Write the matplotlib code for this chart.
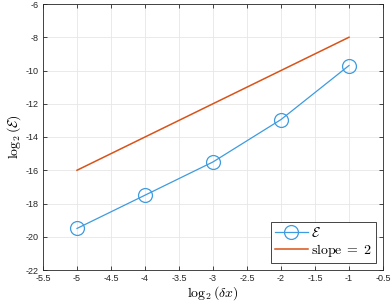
import matplotlib
matplotlib.use("Agg")
import matplotlib.pyplot as plt
import numpy as np

plt.rcParams['mathtext.fontset'] = 'cm'
plt.rcParams['font.family'] = ['Liberation Sans', 'DejaVu Sans']

log_dx = [-5, -4, -3, -2, -1]
log_err = [-19.5, -17.5, -15.5, -12.95, -9.7]
slope_x = [-5, -1]
slope_y = [-16, -8]
xticks = [-5.5, -5, -4.5, -4, -3.5, -3, -2.5, -2, -1.5, -1, -0.5]
yticks = [-22, -20, -18, -16, -14, -12, -10, -8, -6]

fig = plt.figure(figsize=(3.92, 3.08), dpi=100)
ax = fig.add_axes([43/392, 38/308, 340/392, 266/308])

ax.plot(log_dx, log_err, '-o', color='#3d9be0', lw=0.9, markersize=10,
        markerfacecolor='none', markeredgewidth=0.9, label=r'$\mathcal{E}$')
ax.plot(slope_x, slope_y, '-', color='#D95319', lw=1.1, label=r'$\mathrm{slope}\;=\;2$')

ax.set_xlim(-5.5, -0.5)
ax.set_ylim(-22, -6)
ax.set_xticks(xticks)
ax.set_yticks(yticks)
ax.set_xticklabels([f'{v:g}' for v in xticks])
ax.set_yticklabels([f'{v:g}' for v in yticks])
ax.tick_params(direction='in', top=True, right=True, labelsize=6.5, length=3,
               width=0.6, color='#262626', labelcolor='#262626', pad=3)
for s in ax.spines.values():
    s.set_linewidth(0.6)
    s.set_color('#262626')
ax.grid(True, color='#e6e6e6', lw=0.6)
ax.set_axisbelow(True)

ax.set_xlabel(r'$\log_2(\delta x)$', fontsize=10, labelpad=1)
ax.set_ylabel(r'$\log_2(\mathcal{E})$', fontsize=10, labelpad=2)

leg = ax.legend(loc='lower right', fontsize=10, fancybox=False, framealpha=1,
                edgecolor='#262626', borderpad=0.3, handlelength=2.4,
                handletextpad=0.2, labelspacing=0.15, borderaxespad=0.5)
leg.get_frame().set_linewidth(0.6)

fig.savefig('out.png', dpi=100)
